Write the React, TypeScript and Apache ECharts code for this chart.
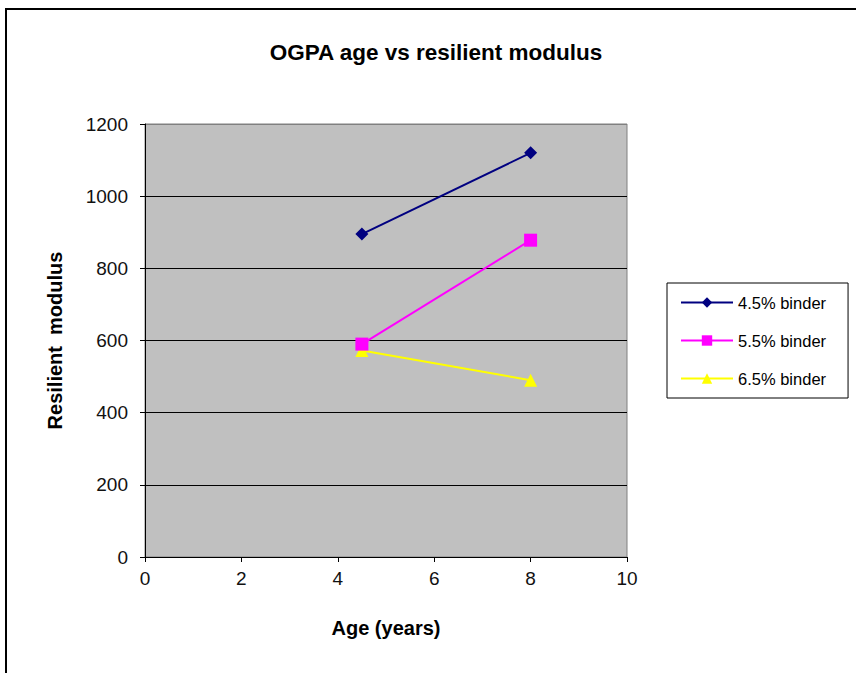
import React, { useEffect, useRef } from "react";
import * as echarts from "echarts";

const titleText = "OGPA age vs resilient modulus";
const xName = "Age (years)";
const yName = "Resilient  modulus";
const seriesNames = ["4.5% binder", "5.5% binder", "6.5% binder"];
const ages = [4.5, 8];
const binder45 = [895, 1120];
const binder55 = [590, 878];
const binder65 = [572, 490];
const colors = ["#000080", "#FF00FF", "#FFFF00"];
const symbols = ["diamond", "rect", "triangle"];

const FONT = "'Liberation Sans', Arial, sans-serif";

export default function App() {
  const ref = useRef<HTMLDivElement>(null);
  useEffect(() => {
    if (!ref.current) return;
    const chart = echarts.init(ref.current, undefined, { renderer: "svg" });
    const values = [binder45, binder55, binder65];
    chart.setOption({
      animation: false,
      backgroundColor: "#fff",
      textStyle: { fontFamily: FONT },
      title: {
        text: titleText,
        left: 431,
        top: 36,
        textAlign: "center",
        textStyle: { fontFamily: FONT, fontSize: 22.5, fontWeight: "bold", color: "#000" },
      },
      graphic: [
        {
          type: "rect",
          shape: { x: 6, y: 9, width: 900, height: 700 },
          style: { fill: "none", stroke: "#000", lineWidth: 2 },
          silent: true,
        },
      ],
      legend: {
        orient: "vertical",
        left: 667,
        top: 283,
        padding: [11, 22, 11, 13],
        itemWidth: 52,
        itemHeight: 13,
        itemGap: 21,
        borderColor: "#000",
        borderWidth: 1,
        backgroundColor: "#fff",
        textStyle: { fontFamily: FONT, fontSize: 16.5, color: "#000" },
        data: seriesNames,
      },
      grid: {
        left: 145,
        right: 229,
        top: 124,
        bottom: 116,
        show: true,
        backgroundColor: "#C0C0C0",
        borderColor: "#808080",
        borderWidth: 1,
        containLabel: false,
      },
      xAxis: {
        type: "value",
        min: 0,
        max: 10,
        interval: 2,
        name: xName,
        nameLocation: "middle",
        nameGap: 61,
        nameTextStyle: { fontFamily: FONT, fontSize: 20, fontWeight: "bold", color: "#000" },
        axisLine: { show: true, onZero: false, lineStyle: { color: "#000", width: 1 } },
        axisTick: { show: true, length: 5, lineStyle: { color: "#000" } },
        axisLabel: { fontFamily: FONT, fontSize: 19, color: "#111", margin: 12 },
        splitLine: { show: false },
      },
      yAxis: {
        type: "value",
        min: 0,
        max: 1200,
        interval: 200,
        name: yName,
        nameLocation: "middle",
        nameGap: 80,
        nameTextStyle: { fontFamily: FONT, fontSize: 20, fontWeight: "bold", color: "#000" },
        axisLine: { show: true, lineStyle: { color: "#000", width: 1 } },
        axisTick: { show: true, length: 5, lineStyle: { color: "#000" } },
        axisLabel: {
          fontFamily: FONT,
          fontSize: 19,
          color: "#111",
          margin: 17,
          formatter: (v: number) => String(v),
        },
        splitLine: {
          show: true,
          lineStyle: {
            color: ["#000", "#000", "#000", "#000", "#000", "#000", "#808080"],
            width: 1,
          },
        },
      },
      series: seriesNames.map((name, i) => ({
        name,
        type: "line",
        data: ages.map((a, j) => [a, values[i][j]]),
        symbol: symbols[i],
        symbolSize: 13,
        showSymbol: true,
        lineStyle: { color: colors[i], width: 2 },
        itemStyle: { color: colors[i] },
        z: 3 - i,
      })),
    });
    return () => chart.dispose();
  }, []);
  return (
    <div
      ref={ref}
      style={{ position: "absolute", left: 0, top: 0, width: 856, height: 673 }}
    />
  );
}
